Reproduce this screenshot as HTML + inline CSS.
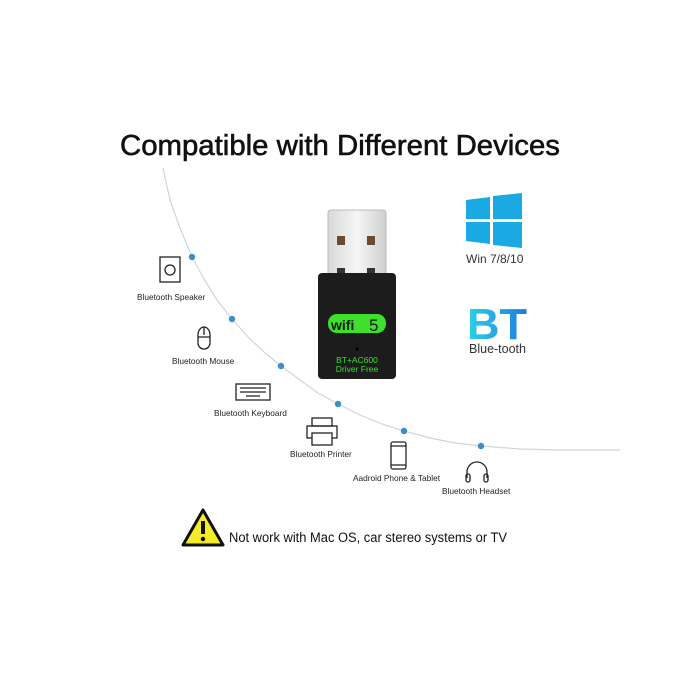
<!DOCTYPE html>
<html><head><meta charset="utf-8"><style>
html,body{margin:0;padding:0;background:#fff;}
svg{display:block;}
text{font-family:"Liberation Sans",sans-serif;}
</style></head><body>
<svg width="680" height="680" viewBox="0 0 680 680" xmlns="http://www.w3.org/2000/svg">
<defs>
<linearGradient id="bt" x1="0" y1="0" x2="1" y2="0"><stop offset="0" stop-color="#2fd0e8"/><stop offset="1" stop-color="#1a7de0"/></linearGradient>
<linearGradient id="metal" x1="0" y1="0" x2="1" y2="0"><stop offset="0" stop-color="#d8d8d8"/><stop offset="0.5" stop-color="#f6f6f6"/><stop offset="1" stop-color="#cfcfcf"/></linearGradient>
</defs>
<text x="340" y="155" text-anchor="middle" font-size="29" fill="#111" stroke="#111" stroke-width="0.6" textLength="440" lengthAdjust="spacingAndGlyphs">Compatible with Different Devices</text>

<!-- arc -->
<polyline points="163,168 170,200 180,228 192,257 204,279 217,300 232,319 248,337 264,352 281,366 300,380 318,393 338,404 360,415 382,424 404,431 430,438 455,443 481,446 520,449 560,450 620,450" fill="none" stroke="#cfd6dc" stroke-width="1.2" stroke-linejoin="round"/>
<g fill="#3a8fc8">
<circle cx="192" cy="257" r="3.2"/><circle cx="232" cy="319" r="3.2"/><circle cx="281" cy="366" r="3.2"/>
<circle cx="338" cy="404" r="3.2"/><circle cx="404" cy="431" r="3.2"/><circle cx="481" cy="446" r="3.2"/>
</g>

<!-- USB -->
<rect x="328" y="210" width="58" height="68" rx="3" fill="url(#metal)" stroke="#bbb"/>
<rect x="337" y="236" width="8" height="9" fill="#6b4a2e"/><rect x="367" y="236" width="8" height="9" fill="#6b4a2e"/>
<rect x="337" y="268" width="8" height="8" fill="#333"/><rect x="367" y="268" width="8" height="8" fill="#333"/>
<rect x="318" y="273" width="78" height="106" rx="4" fill="#1c1c1c"/>
<rect x="328" y="314" width="58" height="19" rx="9" fill="#3de02a"/>
<text x="331" y="330" font-size="14" font-weight="bold" fill="#0c1a0c">wifi</text>
<text x="369" y="331" font-size="17" fill="#0c1a0c">5</text>
<circle cx="357" cy="349" r="1.5" fill="#000"/>
<text x="357" y="363" text-anchor="middle" font-size="8.5" fill="#3de02a">BT+AC600</text>
<text x="357" y="372" text-anchor="middle" font-size="8.5" fill="#3de02a">Driver Free</text>

<!-- windows -->
<g fill="#1aa9e2">
<polygon points="466,200 490,197 490,219 466,219"/>
<polygon points="493,196 522,193 522,219 493,219"/>
<polygon points="466,222 490,222 490,244 466,241"/>
<polygon points="493,222 522,222 522,248 493,245"/>
</g>
<text x="466" y="263" font-size="12" fill="#333">Win 7/8/10</text>
<text x="467" y="339" font-size="44" font-weight="bold" fill="url(#bt)" textLength="60" lengthAdjust="spacingAndGlyphs">BT</text>
<text x="469" y="353" font-size="12.5" fill="#333">Blue-tooth</text>

<!-- devices -->
<g fill="none" stroke="#222" stroke-width="1.3">
<rect x="160" y="257" width="20" height="25"/><circle cx="170" cy="270" r="5"/>
<path d="M198,335 a6,8 0 0 1 12,0 v8 a6,6 0 0 1 -12,0 z M204,327 v8 M198,337 h12"/>
<rect x="236" y="384" width="34" height="16"/>
<path d="M240,388 h26 M240,392 h26 M246,396 h14"/>
<rect x="312" y="418" width="20" height="8"/><rect x="307" y="426" width="30" height="12"/><rect x="312" y="433" width="20" height="12" fill="#fff"/>
<rect x="391" y="442" width="15" height="27" rx="2"/><path d="M391,446 h15 M391,465 h15"/>
<path d="M467,478 v-6 a10,10 0 0 1 20,0 v6"/><rect x="466" y="474" width="4" height="8" rx="2"/><rect x="484" y="474" width="4" height="8" rx="2"/>
</g>
<g font-size="8.3" fill="#222">
<text x="137" y="300">Bluetooth Speaker</text>
<text x="172" y="364">Bluetooth Mouse</text>
<text x="214" y="416">Bluetooth Keyboard</text>
<text x="290" y="457">Bluetooth Printer</text>
<text x="353" y="481">Aadroid Phone &amp; Tablet</text>
<text x="442" y="494">Bluetooth Headset</text>
</g>

<!-- warning -->
<polygon points="203,510 223,545 183,545" fill="#f2ec2a" stroke="#111" stroke-width="3" stroke-linejoin="round"/>
<rect x="201" y="521" width="4" height="13" fill="#111"/><circle cx="203" cy="539" r="2.2" fill="#111"/>
<text x="229" y="542" font-size="13.5" fill="#111" textLength="278" lengthAdjust="spacingAndGlyphs">Not work with Mac OS, car stereo systems or TV</text>
</svg>
</body></html>
